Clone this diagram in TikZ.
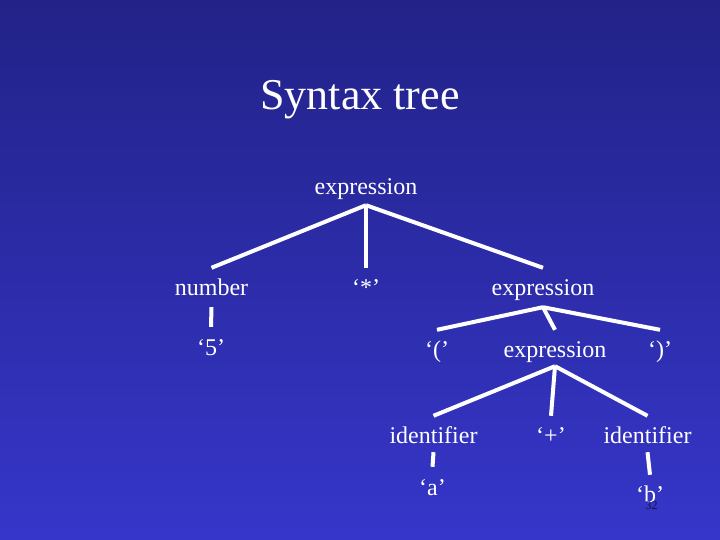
\documentclass[tikz,border=0pt]{standalone}
\usepackage{fontspec}
\setmainfont{Liberation Serif}
\definecolor{bgtop}{RGB}{34,34,136}
\definecolor{bgbot}{RGB}{54,54,202}
\definecolor{numcol}{RGB}{20,20,80}
\begin{document}
\begin{tikzpicture}[x=1pt,y=-1pt,
  lbl/.style={text=white,font=\fontsize{24}{28}\selectfont,inner sep=0pt,anchor=base},
  lvroot/.style={lbl,text height=16pt,text depth=10pt},
  lvtwo/.style={lbl,text height=27pt,text depth=12pt},
  lvthree/.style={lbl,text height=27pt,text depth=9pt},
  lvfour/.style={lbl,text height=27pt,text depth=9pt},
  lvfive/.style={lbl,text height=27pt,text depth=5pt},
  branch/.style={draw=white,line width=4pt}]
\useasboundingbox (0,0) rectangle (720,540);
\fill[top color=bgtop,bottom color=bgbot] (0,0) rectangle (720,540);
\node[text=white,font=\fontsize{44}{50}\selectfont,inner sep=0pt,anchor=base] (title) at (360,110) {Syntax tree};
% level 1
\node[lvroot] (root) at (366,195) {expression};
% level 2
\node[lvtwo] (num) at (211.5,295) {number};
\node[lvtwo] (star) at (366,295) {‘*’};
\node[lvtwo] (exprb) at (543,295) {expression};
% level 3
\node[lvthree,text height=28pt] (five) at (211,355) {‘5’};
\node[lvthree] (lpar) at (437,357) {‘(’};
\node[lvthree] (exprc) at (555,357) {expression};
\node[lvthree] (rpar) at (660,357) {‘)’};
% level 4
\node[lvfour] (ida) at (433.5,443) {identifier};
\node[lvfour] (plus) at (551,443) {‘+’};
\node[lvfour] (idb) at (647.5,443) {identifier};
% level 5
\node[lvfive,text height=28pt] (a) at (432.5,495) {‘a’};
\node[lvfive] (b) at (650,502) {‘b’};
% slide number
\node[text=numcol,font=\fontsize{12}{14}\selectfont,inner sep=0pt,anchor=base] (pagenum) at (651.5,509) {32};
% connectors
\draw[branch] (root.south) -- (num.north);
\draw[branch] (root.south) -- (star.north);
\draw[branch] (root.south) -- (exprb.north);
\draw[branch] (num.south) -- (five.north);
\draw[branch] (exprb.south) -- (lpar.north);
\draw[branch] (exprb.south) -- (exprc.north);
\draw[branch] (exprb.south) -- (rpar.north);
\draw[branch] (exprc.south) -- (ida.north);
\draw[branch] (exprc.south) -- (plus.north);
\draw[branch] (exprc.south) -- (idb.north);
\draw[branch] (ida.south) -- (a.north);
\draw[branch] (idb.south) -- (b.north);
\end{tikzpicture}
\end{document}
